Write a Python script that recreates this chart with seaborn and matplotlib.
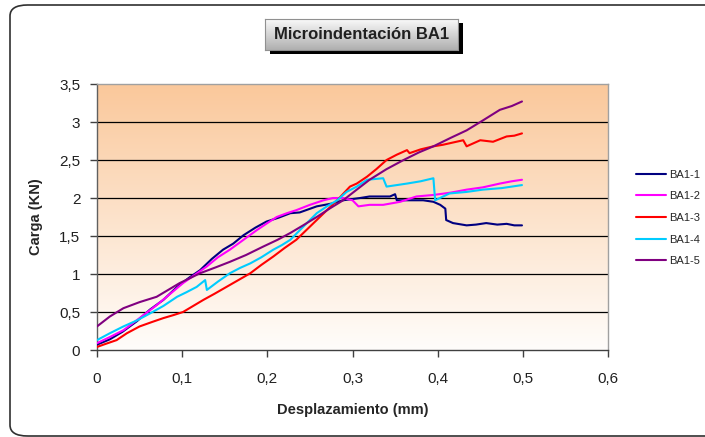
"""
plot.py — Microindentación BA1: load vs displacement curves for five samples.
"""

import numpy as np
import pandas as pd
import matplotlib
matplotlib.use("Agg")
import matplotlib.pyplot as plt
from matplotlib.patches import FancyBboxPatch
import seaborn as sns

# ── Data ──────────────────────────────────────────────────────────────────────
SERIES = ["BA1-1", "BA1-2", "BA1-3", "BA1-4", "BA1-5"]
COLORS = ["#000080", "#FF00FF", "#FF0000", "#00CCFF", "#800080"]

ba1_1_x = [0.0, 0.015, 0.03, 0.047, 0.062, 0.078, 0.094, 0.108, 0.121, 0.135, 0.148,
           0.160, 0.172, 0.186, 0.199, 0.213, 0.227, 0.238, 0.258, 0.277, 0.289,
           0.309, 0.320, 0.344, 0.350, 0.352, 0.383, 0.395, 0.403, 0.409, 0.410,
           0.418, 0.434, 0.445, 0.457, 0.470, 0.481, 0.490, 0.499]
ba1_1_y = [0.07, 0.14, 0.24, 0.38, 0.53, 0.66, 0.83, 0.95, 1.05, 1.20, 1.32,
           1.40, 1.51, 1.61, 1.69, 1.74, 1.80, 1.81, 1.89, 1.93, 1.97,
           2.00, 2.02, 2.02, 2.05, 1.97, 1.97, 1.95, 1.91, 1.86, 1.71,
           1.67, 1.64, 1.65, 1.67, 1.65, 1.66, 1.64, 1.64]

ba1_2_x = [0.0, 0.015, 0.031, 0.05, 0.07, 0.085, 0.101, 0.115, 0.129, 0.142, 0.156,
           0.172, 0.188, 0.200, 0.211, 0.223, 0.234, 0.250, 0.266, 0.277, 0.289,
           0.300, 0.307, 0.320, 0.336, 0.356, 0.375, 0.395, 0.415, 0.434, 0.453,
           0.473, 0.487, 0.499]
ba1_2_y = [0.09, 0.17, 0.26, 0.42, 0.59, 0.73, 0.88, 0.99, 1.10, 1.22, 1.32,
           1.45, 1.58, 1.67, 1.75, 1.80, 1.84, 1.91, 1.97, 2.00, 2.00,
           1.97, 1.89, 1.91, 1.91, 1.95, 2.02, 2.04, 2.07, 2.11, 2.14,
           2.19, 2.22, 2.24]

ba1_3_x = [0.0, 0.010, 0.023, 0.035, 0.05, 0.065, 0.078, 0.090, 0.101, 0.113, 0.125,
           0.138, 0.152, 0.166, 0.180, 0.193, 0.207, 0.220, 0.234, 0.246, 0.258,
           0.270, 0.282, 0.297, 0.305, 0.317, 0.328, 0.340, 0.352, 0.364, 0.367,
           0.380, 0.395, 0.406, 0.418, 0.430, 0.434, 0.442, 0.450, 0.465, 0.481,
           0.490, 0.499]
ba1_3_y = [0.04, 0.08, 0.13, 0.22, 0.31, 0.37, 0.42, 0.46, 0.50, 0.58, 0.66,
           0.74, 0.83, 0.92, 1.01, 1.12, 1.23, 1.34, 1.45, 1.58, 1.71,
           1.84, 1.97, 2.15, 2.19, 2.28, 2.38, 2.50, 2.57, 2.63, 2.59,
           2.64, 2.68, 2.70, 2.73, 2.76, 2.68, 2.72, 2.76, 2.74, 2.81,
           2.82, 2.85]

ba1_4_x = [0.0, 0.015, 0.031, 0.047, 0.062, 0.078, 0.094, 0.105, 0.117, 0.127, 0.129,
           0.142, 0.156, 0.168, 0.180, 0.193, 0.207, 0.217, 0.227, 0.242, 0.258,
           0.270, 0.282, 0.293, 0.305, 0.317, 0.336, 0.340, 0.352, 0.364, 0.380,
           0.395, 0.397, 0.414, 0.434, 0.453, 0.475, 0.499]
ba1_4_y = [0.13, 0.22, 0.31, 0.39, 0.48, 0.58, 0.70, 0.76, 0.83, 0.92, 0.79,
           0.90, 1.01, 1.08, 1.14, 1.22, 1.32, 1.38, 1.45, 1.62, 1.80,
           1.89, 1.97, 2.08, 2.15, 2.24, 2.26, 2.15, 2.17, 2.19, 2.22,
           2.26, 1.97, 2.06, 2.08, 2.11, 2.13, 2.17]

ba1_5_x = [0.0, 0.015, 0.031, 0.05, 0.07, 0.085, 0.097, 0.110, 0.121, 0.140, 0.156,
           0.175, 0.195, 0.212, 0.227, 0.242, 0.258, 0.273, 0.289, 0.305, 0.320,
           0.340, 0.360, 0.378, 0.395, 0.415, 0.434, 0.453, 0.473, 0.487, 0.499]
ba1_5_y = [0.31, 0.44, 0.55, 0.63, 0.70, 0.80, 0.88, 0.95, 1.01, 1.09, 1.16,
           1.25, 1.36, 1.45, 1.54, 1.64, 1.75, 1.86, 1.97, 2.11, 2.24,
           2.38, 2.50, 2.60, 2.68, 2.79, 2.89, 3.02, 3.16, 3.21, 3.27]

X_TICKS = [0.0, 0.1, 0.2, 0.3, 0.4, 0.5, 0.6]
X_LABELS = ["0", "0,1", "0,2", "0,3", "0,4", "0,5", "0,6"]
Y_TICKS = [0.0, 0.5, 1.0, 1.5, 2.0, 2.5, 3.0, 3.5]
Y_LABELS = ["0", "0,5", "1", "1,5", "2", "2,5", "3", "3,5"]

TITLE = "Microindentación BA1"
XLABEL = "Desplazamiento (mm)"
YLABEL = "Carga (KN)"

# ── Long-form table ────────────────────────────────────────────────────────────
xs = [ba1_1_x, ba1_2_x, ba1_3_x, ba1_4_x, ba1_5_x]
ys = [ba1_1_y, ba1_2_y, ba1_3_y, ba1_4_y, ba1_5_y]
frames = []
for name, x, y in zip(SERIES, xs, ys):
    frames.append(pd.DataFrame({"x": x, "y": y, "serie": name}))
df = pd.concat(frames, ignore_index=True)

# ── Figure ─────────────────────────────────────────────────────────────────────
sns.set_style("white")
plt.rcParams["font.family"] = ["Liberation Sans", "DejaVu Sans"]

W, H = 705, 437
fig = plt.figure(figsize=(W / 100, H / 100), dpi=100)
ax = fig.add_axes([97 / W, 1 - 350 / H, (608 - 97) / W, (350 - 84) / H])

def vgrad(top_rgb, bot_rgb):
    g = np.linspace(0, 1, 256).reshape(-1, 1, 1)
    top = np.array(top_rgb) / 255
    bot = np.array(bot_rgb) / 255
    return (bot + (top - bot) * g).repeat(2, axis=1)

# orange-to-white gradient in the plot area
ax.imshow(vgrad((250, 200, 155), (255, 253, 251)), extent=[0, 1, 0, 1],
          transform=ax.transAxes, origin="lower", aspect="auto", zorder=0)

for yv in Y_TICKS[1:-1]:
    ax.axhline(yv, color="black", lw=0.9, zorder=1)

sns.lineplot(data=df, x="x", y="y", hue="serie", palette=COLORS, estimator=None,
             sort=False, units="serie", lw=1.5, ax=ax, zorder=3, legend=True)

ax.set_xlim(0, 0.6)
ax.set_ylim(0, 3.5)
ax.set_xticks(X_TICKS)
ax.set_xticklabels(X_LABELS, fontsize=11)
ax.set_yticks(Y_TICKS)
ax.set_yticklabels(Y_LABELS, fontsize=11)
ax.tick_params(axis="both", direction="out", length=5, width=1, color="#404040",
               labelcolor="#202020")
ax.tick_params(axis="x", bottom=True, pad=11)
ax.tick_params(axis="y", left=True, pad=7)
ax.set_xlabel(XLABEL, fontsize=10.5, fontweight="bold", labelpad=12)
ax.set_ylabel(YLABEL, fontsize=10.5, fontweight="bold", labelpad=12)

ax.spines["left"].set_color("#606060")
ax.spines["bottom"].set_color("#404040")
ax.spines["top"].set_color("#A0A0A0")
ax.spines["right"].set_color("#A0A0A0")
for s in ax.spines.values():
    s.set_linewidth(1)

# legend outside, to the right
handles, labels = ax.get_legend_handles_labels()
ax.legend_.remove()
fig.legend(handles, labels, loc="center left", bbox_to_anchor=(632 / W, 1 - 218 / H),
           frameon=False, fontsize=8, handlelength=2.7, labelspacing=1.05,
           handletextpad=0.2, borderaxespad=0)

# title box with shadow and grey gradient
fig.patches.append(FancyBboxPatch((270 / W, 1 - 54 / H), 193 / W, 31 / H,
                                  boxstyle="square,pad=0", transform=fig.transFigure,
                                  facecolor="black", edgecolor="none", zorder=1))
tax = fig.add_axes([265 / W, 1 - 50 / H, 193 / W, 31 / H], zorder=5)
tax.imshow(vgrad((250, 250, 250), (175, 175, 175)), extent=[0, 1, 0, 1],
           origin="lower", aspect="auto")
tax.set_xticks([])
tax.set_yticks([])
for s in tax.spines.values():
    s.set_color("#909090")
    s.set_linewidth(0.8)
tax.text(0.5, 0.5, TITLE, ha="center", va="center", fontsize=12,
         fontweight="bold", color="#202020", transform=tax.transAxes)

# rounded chart border
fig.patches.append(FancyBboxPatch((10 / W, 1 / H), 720 / W, 431 / H,
                                  boxstyle="round,pad=0,rounding_size=0.025",
                                  transform=fig.transFigure, facecolor="none",
                                  edgecolor="#303030", lw=1.2, zorder=0))

fig.savefig("out.png", dpi=100)
